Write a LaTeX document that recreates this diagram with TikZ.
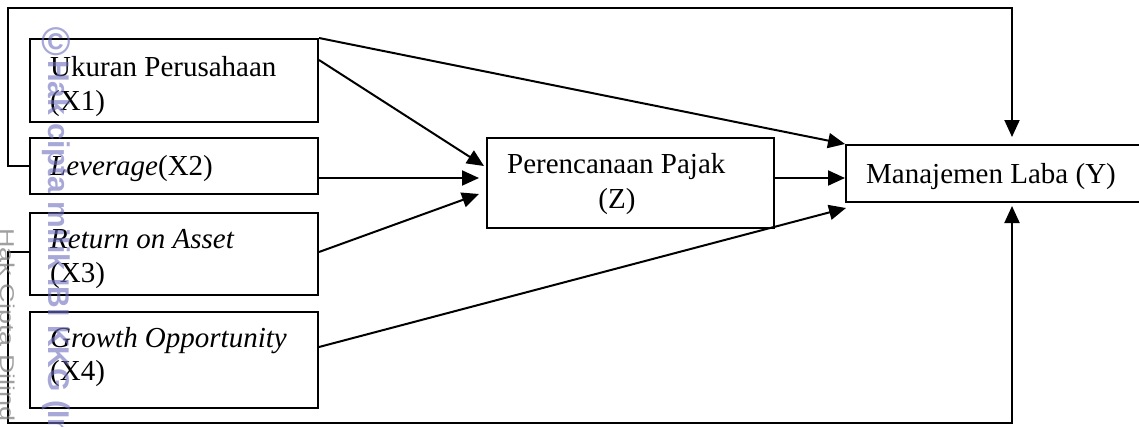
\documentclass[tikz,border=0pt]{standalone}
\usepackage{fontspec}
\setmainfont{Liberation Serif}
\newfontfamily\wmfont{Liberation Sans}
\usetikzlibrary{arrows.meta}

\begin{document}
\begin{tikzpicture}[x=1pt, y=-1pt,
  box/.style={draw, line width=2pt, rectangle, inner sep=0pt, anchor=north west},
  lbl/.style={inner sep=0pt, anchor=base west, font=\fontsize{29}{34}\selectfont},
  link/.style={line width=2pt, -{Triangle[length=17pt,width=15pt]}},
  loop/.style={line width=2pt, -{Triangle[length=17pt,width=15pt]}},
  wm/.style={inner sep=0pt, text=wmblue, text opacity=0.6, font=\wmfont\bfseries\fontsize{30}{30}\selectfont},
  wmgrey/.style={inner sep=0pt, text=wmgray, text opacity=0.7, font=\wmfont\fontsize{20}{20}\selectfont}
]
\definecolor{wmblue}{RGB}{110,110,190}
\definecolor{wmgray}{RGB}{120,120,120}

\useasboundingbox (0,0) rectangle (1139,426);

% independent variables
\node[box, minimum width=288pt, minimum height=83pt] (x1) at (29,38) {};
\node[box, minimum width=288pt, minimum height=56pt] (x2) at (29,137) {};
\node[box, minimum width=288pt, minimum height=82pt] (x3) at (29,212) {};
\node[box, minimum width=288pt, minimum height=96pt] (x4) at (29,311) {};

% intervening and dependent variables
\node[box, minimum width=287pt, minimum height=90pt] (z) at (486,137) {};
\node[box, minimum width=310pt, minimum height=57pt] (y) at (845,144) {};

% labels
\node[lbl] (t1a) at (50,76) {Ukuran Perusahaan};
\node[lbl] (t1b) at (50,110) {(X1)};
\node[lbl] (t2) at (50,175) {\textit{Leverage}(X2)};
\node[lbl] (t3a) at (50,248) {\textit{Return on Asset}};
\node[lbl] (t3b) at (50,282) {(X3)};
\node[lbl] (t4a) at (50,347) {\textit{Growth Opportunity}};
\node[lbl] (t4b) at (50,380) {(X4)};
\node[lbl] (tza) at (507,173) {Perencanaan Pajak};
\node[lbl, anchor=base] (tzb) at (617,208) {(Z)};
\node[lbl] (ty) at (866,183) {Manajemen Laba (Y)};

% direct paths
\draw[link] (x1.north east) -- (y.north west);
\draw[link] ([yshift=-22pt]x1.north east) -- ([xshift=-2pt,yshift=-29pt]z.north west);
\draw[link] ([yshift=-41pt]x2.north east) -- ([xshift=-7pt,yshift=-41pt]z.north west);
\draw[link] ([yshift=-40pt]x3.north east) -- ([xshift=-7pt,yshift=-57pt]z.north west);
\draw[link] ([yshift=-36pt]x4.north east) -- ([xshift=1pt,yshift=-5pt]y.south west);
\draw[link] ([yshift=-41pt]z.north east) -- ([yshift=-34pt]y.north west);

% outer loops into the dependent variable
\coordinate (tl) at (8,8);
\coordinate (tr) at (1012,8);
\coordinate (bl) at (8,423);
\coordinate (br) at (1012,423);
\draw[loop] (x2.west) -| (tl) -- (tr) -- ([yshift=7pt]y.north -| tr);
\draw[loop] ([yshift=-40pt]x3.north west) -| (bl) -- (br) -- ([yshift=-3pt]y.south -| br);

% watermark
\node[wm, anchor=center] (wmc) at (56,42) {\fontsize{40}{40}\selectfont\textcopyright};
\node[wm, rotate=-90, anchor=north west] (wm1) at (70,60) {Hak cipta milik IBI KKG (In};
\node[wmgrey, rotate=-90, xscale=1.35, anchor=north west] (wm2) at (15,228) {Hak Cipta Dilind};
\end{tikzpicture}
\end{document}
